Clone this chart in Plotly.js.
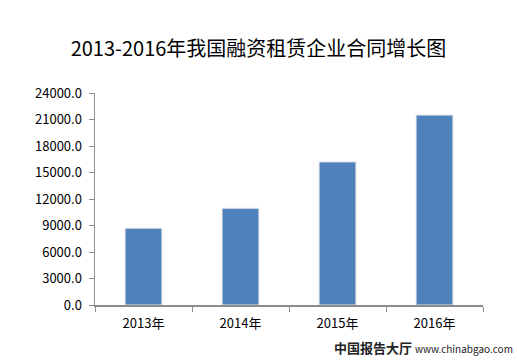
<!DOCTYPE html>
<html><head><meta charset="utf-8">
<script src="https://cdn.plot.ly/plotly-3.0.1.min.js"></script>
<style>body{margin:0;background:#fff}#c{width:517px;height:360px}</style>
</head><body><div id="c"></div>
<script>
const categories = ["2013年","2014年","2015年","2016年"];
const values = [8700, 10950, 16200, 21500];
const titleText = "2013-2016年我国融资租赁企业合同增长图";
const watermark = "中国报告大厅 www.chinabgao.com";

const font = '"Microsoft YaHei","Noto Sans CJK SC","DejaVu Sans",sans-serif';
Plotly.newPlot("c", [{
  type: "bar", x: categories, y: values,
  marker: {color: "#4F81BD", line: {color: "#e6e6e6", width: 1}},
  hoverinfo: "none"
}], {
  width: 517, height: 360,
  margin: {l: 95, r: 34, t: 93, b: 55},
  paper_bgcolor: "#fff", plot_bgcolor: "#fff",
  title: {text: titleText, x: 0.5, xanchor: "center", y: 0.865, yanchor: "middle",
          font: {family: font, size: 20, color: "#000"}},
  bargap: 0.62,
  xaxis: {showline: true, linecolor: "#8c8c8c", linewidth: 1.5, ticks: "outside", tickson: "boundaries",
          ticklen: 5, tickcolor: "#8c8c8c", showgrid: false, ticklabelstandoff: 6,
          tickfont: {family: font, size: 13, color: "#000"}},
  yaxis: {range: [0, 24000], dtick: 3000, tickformat: ".1f", showline: true, linecolor: "#8c8c8c",
          linewidth: 1.5, ticks: "outside", ticklen: 5, tickcolor: "#8c8c8c", showgrid: false, zeroline: false,
          ticklabelstandoff: 4,
          tickfont: {family: font, size: 13, color: "#000"}},
  showlegend: false,
  annotations: [{
    text: "<b>" + watermark.split(" ")[0] + "</b> <span style='font-size:10px'>" + watermark.split(" ")[1] + "</span>",
    xref: "paper", yref: "paper", x: 1.08, y: -0.2, borderpad: 0,
    xanchor: "right", yanchor: "middle", showarrow: false,
    font: {family: font, size: 13, color: "#222"}
  }]
}, {displayModeBar: false, staticPlot: true});
</script></body></html>
